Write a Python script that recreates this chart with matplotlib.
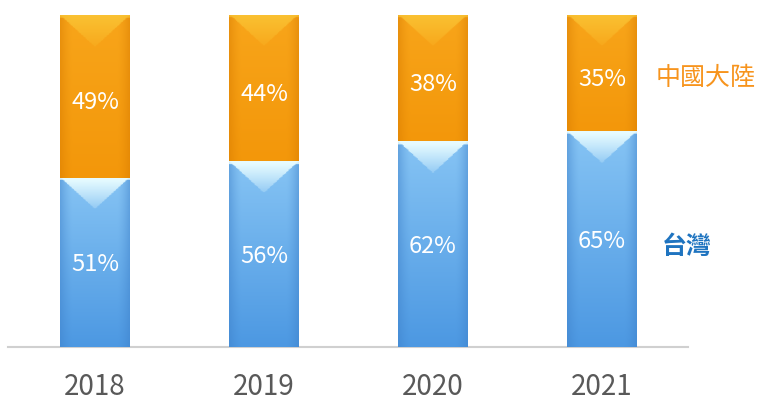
import matplotlib
matplotlib.use("Agg")
import matplotlib.pyplot as plt
import matplotlib.colors as mcolors
import numpy as np

years = ["2018", "2019", "2020", "2021"]
taiwan = [51, 56, 62, 65]
china = [49, 44, 38, 35]
series_names = ["台灣", "中國大陸"]

plt.rcParams['font.family'] = ['Noto Sans CJK TC', 'DejaVu Sans']

W, H = 763, 403
fig = plt.figure(figsize=(W / 100, H / 100), dpi=100)
ax = fig.add_axes([8 / W, (H - 347) / H, (688 - 8) / W, (347 - 15) / H])

x = np.arange(len(years))
width = 0.414
blue = "#62AAEA"
orange = "#F59B0C"

b1 = ax.bar(x, taiwan, width, color=blue, zorder=2)
b2 = ax.bar(x, china, width, bottom=taiwan, color=orange, zorder=2)


def shade_segment(rect, c_top, c_bot, c_edge, c_light, depth, light_alpha):
    x0 = rect.get_x()
    w = rect.get_width()
    y0 = rect.get_y()
    h = rect.get_height()
    top = y0 + h
    ny, nx = 240, 60
    ys = np.linspace(top, y0, ny)[:, None]
    us = np.linspace(0, 1, nx)[None, :]
    t = (top - ys) / h
    ct = np.array(mcolors.to_rgb(c_top))
    cb = np.array(mcolors.to_rgb(c_bot))
    ce = np.array(mcolors.to_rgb(c_edge))
    cl = np.array(mcolors.to_rgb(c_light))
    base = ct[None, None, :] * (1 - t[..., None]) + cb[None, None, :] * t[..., None]
    base = np.broadcast_to(base, (ny, nx, 3)).copy()
    edge = np.clip(1 - np.minimum(us, 1 - us) / 0.18, 0, 1) ** 1.5
    edge = np.broadcast_to(edge, (ny, nx))[..., None] * 0.45
    base = base * (1 - edge) + ce[None, None, :] * edge
    dist = top - ys
    lim = depth * (1 - np.abs(2 * us - 1))
    inside = dist <= lim
    a = np.where(inside, light_alpha * (1 - dist / (depth + 1e-9)) + 0.25 * light_alpha, 0)
    a = np.clip(a, 0, 1)
    a = np.maximum(a, np.where(dist < 0.8, light_alpha, 0))
    a = np.broadcast_to(a, (ny, nx))[..., None]
    img = base * (1 - a) + cl[None, None, :] * a
    im = ax.imshow(img, extent=[x0, x0 + w, y0, top], aspect="auto",
                   zorder=3, interpolation="bilinear")
    im.set_clip_path(rect)


for r in b1:
    shade_segment(r, "#86C4F4", "#4C98E2", "#3D7FC8", "#E6FBFF", 9.5, 0.85)
for r in b2:
    shade_segment(r, "#F8A51A", "#F3970A", "#D77A00", "#FBCB3A", 9.5, 0.6)

for i in range(len(years)):
    ax.text(x[i], taiwan[i] / 2 - 0.8, f"{taiwan[i]}%", ha="center", va="center",
            color="white", fontsize=17, zorder=5)
    ax.text(x[i], taiwan[i] + china[i] / 2 - 2.0, f"{china[i]}%", ha="center",
            va="center", color="white", fontsize=17, zorder=5)

ax.set_xlim(-0.515, 3.509)
ax.set_ylim(0, 100)
for s in ["top", "right", "left"]:
    ax.spines[s].set_visible(False)
ax.spines["bottom"].set_color("#D0D0D0")
ax.spines["bottom"].set_linewidth(1.5)
ax.spines["bottom"].set_zorder(1)
ax.set_yticks([])
ax.set_xticks(x)
ax.set_xticklabels(years, fontsize=20, color="#595959")
ax.tick_params(axis="x", length=0, pad=18)

fig.text(706 / W, 1 - 78 / H, series_names[1], color="#F7941D", fontsize=18,
         ha="center", va="center")
fig.text(687 / W, 1 - 247 / H, series_names[0], color="#1F74C0", fontsize=18,
         ha="center", va="center", fontweight="bold")

fig.savefig("out.png", dpi=100)
